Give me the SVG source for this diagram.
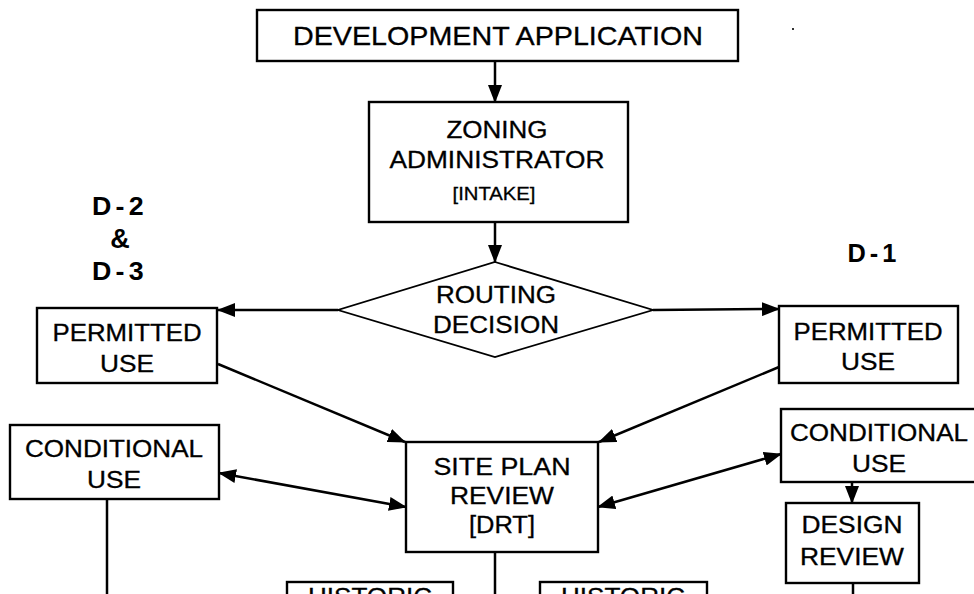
<svg xmlns="http://www.w3.org/2000/svg" width="974" height="594" viewBox="0 0 974 594">
  <style>
    .box { fill: #fff; stroke: #000; stroke-width: 2.4; }
    .dia { fill: #fff; stroke: #000; stroke-width: 1.8; }
    .t { font-family: "Liberation Sans", Arial, sans-serif; font-size: 23px; fill: #000; stroke: #000; stroke-width: 0.3; text-anchor: middle; }
    .big { font-size: 25px; }
    .s { font-size: 18px; }
    .h { font-family: "Liberation Sans", Arial, sans-serif; font-size: 25px; font-weight: bold; fill: #000; text-anchor: middle; }
    .hs { letter-spacing: 4px; }
    .ln { fill: none; stroke: #000; stroke-width: 2.5; }
  </style>
  <defs>
    <marker id="ah" markerWidth="18" markerHeight="14" refX="17" refY="7" orient="auto" markerUnits="userSpaceOnUse">
      <path d="M0,0 L18,7 L0,14 Z" fill="#000"/>
    </marker>
    <marker id="ahs" markerWidth="18" markerHeight="14" refX="1" refY="7" orient="auto" markerUnits="userSpaceOnUse">
      <path d="M18,0 L0,7 L18,14 Z" fill="#000"/>
    </marker>
  </defs>
  <rect width="974" height="594" fill="#fff"/>

  <!-- district headings -->
  <g id="labels">
    <text class="h hs" x="120" y="215" textLength="56" lengthAdjust="spacingAndGlyphs">D-2</text>
    <text class="h" x="120" y="248" style="font-size:27px">&amp;</text>
    <text class="h hs" x="120" y="280" textLength="56" lengthAdjust="spacingAndGlyphs">D-3</text>
    <text class="h hs" x="874" y="262" textLength="53" lengthAdjust="spacingAndGlyphs">D-1</text>
  </g>

  <!-- connectors -->
  <g id="connectors">
    <line class="ln" x1="495" y1="61" x2="495" y2="102" marker-end="url(#ah)"/>
    <line class="ln" x1="495" y1="222" x2="495" y2="262" marker-end="url(#ah)"/>
    <line class="ln" x1="338" y1="310" x2="218" y2="310" marker-end="url(#ah)"/>
    <line class="ln" x1="653" y1="310" x2="779" y2="309" marker-end="url(#ah)"/>
    <line class="ln" x1="218" y1="364" x2="405" y2="442" marker-end="url(#ah)"/>
    <line class="ln" x1="779" y1="367" x2="599" y2="442" marker-end="url(#ah)"/>
    <line class="ln" x1="219" y1="473" x2="406" y2="507" marker-start="url(#ahs)" marker-end="url(#ah)"/>
    <line class="ln" x1="598" y1="507" x2="781" y2="454" marker-start="url(#ahs)" marker-end="url(#ah)"/>
    <line class="ln" x1="852" y1="482" x2="852" y2="503" marker-end="url(#ah)"/>
    <line class="ln" x1="107" y1="499" x2="107" y2="594"/>
    <line class="ln" x1="495" y1="552" x2="495" y2="594"/>
    <line class="ln" x1="853" y1="583" x2="853" y2="594"/>
  </g>

  <g id="dev-app">
    <rect class="box" x="257" y="10" width="481" height="51"/>
    <text class="t big" x="498" y="45" textLength="410" lengthAdjust="spacingAndGlyphs">DEVELOPMENT APPLICATION</text>
  </g>

  <g id="zoning-admin">
    <rect class="box" x="369" y="102" width="259" height="120"/>
    <text class="t" x="497" y="138" textLength="101" lengthAdjust="spacingAndGlyphs">ZONING</text>
    <text class="t" x="497" y="168" textLength="215" lengthAdjust="spacingAndGlyphs">ADMINISTRATOR</text>
    <text class="t s" x="494" y="200" textLength="83" lengthAdjust="spacingAndGlyphs">[INTAKE]</text>
  </g>

  <g id="routing">
    <polygon class="dia" points="495,262 653,310 495,357 338,310"/>
    <text class="t" x="496" y="303" textLength="120" lengthAdjust="spacingAndGlyphs">ROUTING</text>
    <text class="t" x="496" y="333" textLength="126" lengthAdjust="spacingAndGlyphs">DECISION</text>
  </g>

  <g id="permitted-left">
    <rect class="box" x="37" y="308" width="180" height="75"/>
    <text class="t" x="127" y="341" textLength="149" lengthAdjust="spacingAndGlyphs">PERMITTED</text>
    <text class="t" x="127" y="372" textLength="54" lengthAdjust="spacingAndGlyphs">USE</text>
  </g>

  <g id="permitted-right">
    <rect class="box" x="779" y="306" width="179" height="77"/>
    <text class="t" x="868" y="340" textLength="149" lengthAdjust="spacingAndGlyphs">PERMITTED</text>
    <text class="t" x="868" y="370" textLength="54" lengthAdjust="spacingAndGlyphs">USE</text>
  </g>

  <g id="conditional-left">
    <rect class="box" x="10" y="425" width="209" height="74"/>
    <text class="t" x="114" y="457" textLength="178" lengthAdjust="spacingAndGlyphs">CONDITIONAL</text>
    <text class="t" x="114" y="488" textLength="54" lengthAdjust="spacingAndGlyphs">USE</text>
  </g>

  <g id="conditional-right">
    <rect class="box" x="781" y="409" width="200" height="73"/>
    <text class="t" x="879" y="441" textLength="178" lengthAdjust="spacingAndGlyphs">CONDITIONAL</text>
    <text class="t" x="879" y="472" textLength="54" lengthAdjust="spacingAndGlyphs">USE</text>
  </g>

  <g id="site-plan">
    <rect class="box" x="406" y="442" width="192" height="110"/>
    <text class="t" x="502" y="475" textLength="137" lengthAdjust="spacingAndGlyphs">SITE PLAN</text>
    <text class="t" x="502" y="504" textLength="104" lengthAdjust="spacingAndGlyphs">REVIEW</text>
    <text class="t" x="502" y="533" textLength="66" lengthAdjust="spacingAndGlyphs">[DRT]</text>
  </g>

  <g id="design-review">
    <rect class="box" x="786" y="503" width="133" height="80"/>
    <text class="t" x="852" y="533" textLength="101" lengthAdjust="spacingAndGlyphs">DESIGN</text>
    <text class="t" x="852" y="565" textLength="104" lengthAdjust="spacingAndGlyphs">REVIEW</text>
  </g>

  <g id="historic-left">
    <rect class="box" x="287" y="582" width="166" height="40"/>
    <text class="t" x="370" y="605" textLength="124" lengthAdjust="spacingAndGlyphs">HISTORIC</text>
  </g>

  <g id="historic-right">
    <rect class="box" x="540" y="582" width="167" height="40"/>
    <text class="t" x="623" y="605" textLength="124" lengthAdjust="spacingAndGlyphs">HISTORIC</text>
  </g>

  <rect x="792" y="28" width="2" height="2" fill="#333"/>
</svg>
